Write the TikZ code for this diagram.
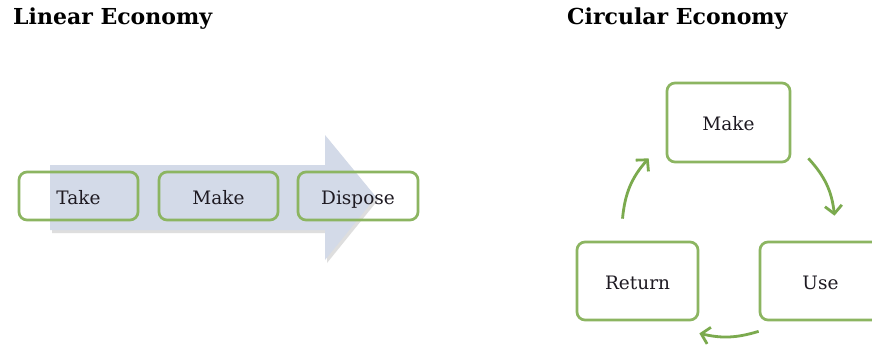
\documentclass[tikz,border=0pt]{standalone}
\usepackage{fontspec}
\setmainfont{DejaVu Serif}
\usetikzlibrary{arrows.meta}
\definecolor{boxgreen}{HTML}{8CB561}
\definecolor{arrowgreen}{HTML}{7BAA4E}
\definecolor{flowblue}{HTML}{D3DAE8}
\definecolor{inkdark}{HTML}{1E1A22}
\begin{document}
\begin{tikzpicture}[x=1pt,y=-1pt,
  title/.style={anchor=base west,font=\bfseries\fontsize{22}{26}\selectfont,inner sep=0pt},
  stage/.style={draw=boxgreen,line width=2.7pt,rounded corners=8pt,text=inkdark,
    font=\fontsize{18.5}{22}\selectfont,inner sep=0pt,text height=16.5pt,text depth=0pt},
  linbox/.style={stage,minimum width=119pt,minimum height=48pt},
  cycbox/.style={stage,minimum width=121pt,minimum height=78pt},
  cycle arrow/.style={draw=arrowgreen,line width=2.8pt,
    -{Straight Barb[length=8pt,width=17pt,line width=2.8pt]}}]
\fill[white] (0,0) rectangle (872,345);
\clip (0,0) rectangle (872,345);

% titles
\node[title] (tlin) at (13,25) {Linear Economy};
\node[title] (tcirc) at (567,25) {Circular Economy};

% linear flow: broad block arrow behind the three stages
\fill[black!25,opacity=0.5] (52,168) -- (327,168) -- (327,138) -- (378,200) -- (327,263)
  -- (327,233) -- (52,233) -- cycle;
\fill[flowblue] (50,165) -- (325,165) -- (325,135) -- (376,197) -- (325,260)
  -- (325,230) -- (50,230) -- cycle;

\node[linbox] (take) at (78.5,196) {Take};
\node[linbox] (make) at (218.5,196) {Make};
\node[linbox,minimum width=120pt] (dispose) at (358,196) {Dispose};

% circular flow
\node[cycbox,minimum width=123pt,minimum height=79pt] (cmake) at (728.5,122.5) {Make};
\node[cycbox] (use) at (820.5,281) {Use};
\node[cycbox] (return) at (637.5,281) {Return};

\coordinate (mu1) at ([shift={(17,-5)}]cmake.south east);
\coordinate (mu2) at ([shift={(14,-25)}]use.north);
\coordinate (ur1) at ([shift={(0,10)}]use.south west);
\coordinate (ur2) at ([shift={(0,12)}]return.south east);
\coordinate (rm1) at ([shift={(-15,-22)}]return.north);
\coordinate (rm2) at ([shift={(-17,-5)}]cmake.south west);

\draw[cycle arrow] (mu1) to[bend left=18] (mu2);
\draw[cycle arrow] (ur1) to[bend left=15] (ur2);
\draw[cycle arrow] (rm1) to[bend left=18] (rm2);
\end{tikzpicture}
\end{document}
